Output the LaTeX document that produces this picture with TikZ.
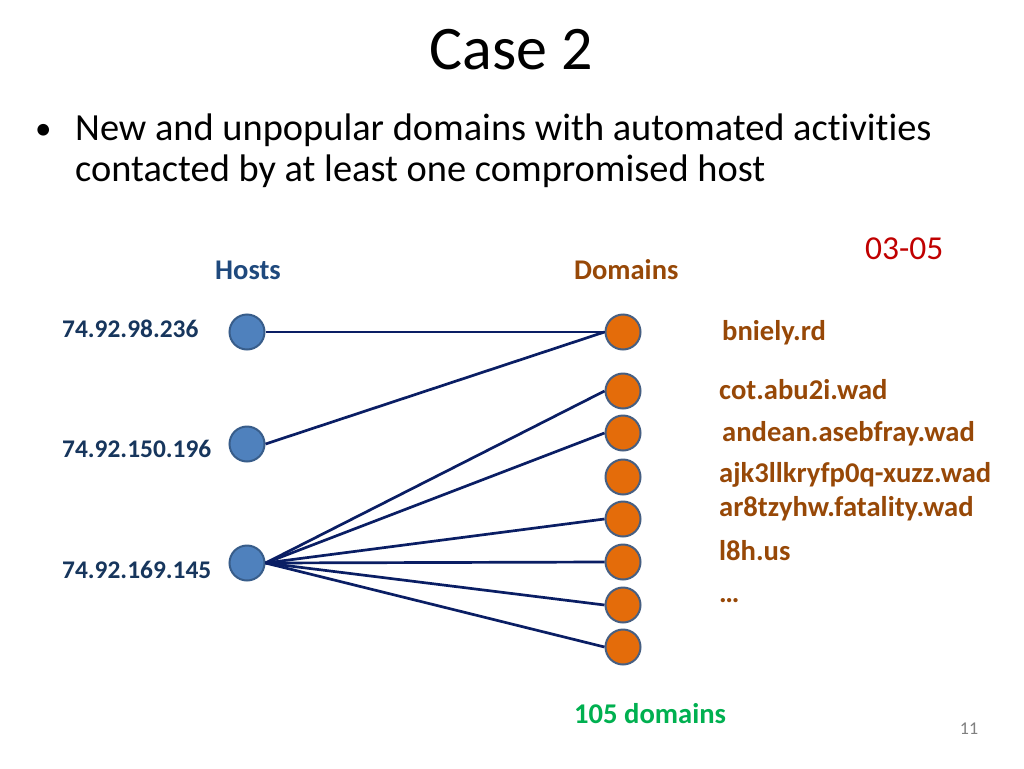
\documentclass[tikz,border=0pt]{standalone}
\usepackage{fontspec}
\setmainfont[Ligatures={NoCommon}]{Carlito}
\definecolor{hostfill}{RGB}{79,129,189}
\definecolor{hostdraw}{RGB}{56,93,138}
\definecolor{domfill}{RGB}{228,108,10}
\definecolor{domdraw}{RGB}{70,95,130}
\definecolor{edgecol}{RGB}{10,30,100}
\definecolor{navy}{RGB}{23,54,93}
\definecolor{hostlbl}{RGB}{31,73,125}
\definecolor{brownlbl}{RGB}{151,72,7}
\definecolor{redlbl}{RGB}{192,0,0}
\definecolor{greenlbl}{RGB}{0,176,80}
\tikzset{
  host/.style={circle,fill=hostfill,draw=hostdraw,line width=2pt,minimum size=35pt,inner sep=0pt},
  dom/.style={circle,fill=domfill,draw=domdraw,line width=2pt,minimum size=35pt,inner sep=0pt},
  edge/.style={draw=edgecol,line width=2.7pt},
  iplbl/.style={anchor=base west,inner sep=0pt,text=navy,font=\fontsize{25.4}{30}\selectfont\bfseries},
  domlbl/.style={anchor=base west,inner sep=0pt,text=brownlbl,font=\fontsize{28.6}{34}\selectfont\bfseries},
  bullettxt/.style={anchor=base west,inner sep=0pt,font=\fontsize{38.4}{46}\selectfont}
}
\begin{document}
\begin{tikzpicture}[x=1pt,y=-1pt]
\useasboundingbox[fill=white] (0,0) rectangle (1024,768);
% title
\node[anchor=base,inner sep=0pt,font=\fontsize{62}{72}\selectfont] (title) at (511,70) {Case 2};
\node[anchor=base west,inner sep=0pt,font=\fontsize{33}{40}\selectfont] (bul) at (35,139) {•};
\node[bullettxt] (l1) at (75,140) {New and unpopular domains with automated activities};
\node[bullettxt] (l2) at (75,181) {contacted by at least one compromised host};
% headers
\node[anchor=base,inner sep=0pt,text=hostlbl,font=\fontsize{28.5}{34}\selectfont\bfseries] (hosts) at (248,279) {Hosts};
\node[anchor=base west,inner sep=0pt,text=brownlbl,font=\fontsize{28.5}{34}\selectfont\bfseries] (domains) at (574,279) {Domains};
\node[anchor=base west,inner sep=0pt,text=redlbl,font=\fontsize{33.5}{40}\selectfont] (date) at (865,259) {03-05};
% hosts
\node[host] (h1) at (247,332) {};
\node[host] (h2) at (247,444) {};
\node[host] (h3) at (247,563) {};
% domains
\node[dom] (d1) at (623,332) {};
\node[dom] (d2) at (623,391) {};
\node[dom] (d3) at (623,433) {};
\node[dom] (d4) at (623,477) {};
\node[dom] (d5) at (623,519) {};
\node[dom] (d6) at (623,562) {};
\node[dom] (d7) at (623,605) {};
\node[dom] (d8) at (623,647) {};
% edges
\draw[edge] (h1.east) -- (d1.west);
\draw[edge] (h2.east) -- (d1.west);
\draw[edge] (h3.east) -- (d2.west);
\draw[edge] (h3.east) -- (d3.west);
\draw[edge] (h3.east) -- (d5.west);
\draw[edge] (h3.east) -- (d6.west);
\draw[edge] (h3.east) -- (d7.west);
\draw[edge] (h3.east) -- (d8.west);
% ip labels
\node[iplbl] (ip1) at (62,337) {74.92.98.236};
\node[iplbl] (ip2) at (62,457) {74.92.150.196};
\node[iplbl] (ip3) at (62,578) {74.92.169.145};
% domain labels
\node[domlbl] (n1) at (722,340) {bniely.rd};
\node[domlbl] (n2) at (719,399) {cot.abu2i.wad};
\node[domlbl] (n3) at (722,441) {andean.asebfray.wad};
\node[domlbl] (n4) at (719,482) {ajk3llkryfp0q-xuzz.wad};
\node[domlbl] (n5) at (719,516) {ar8tzyhw.fatality.wad};
\node[domlbl] (n6) at (719,560) {l8h.us};
\node[domlbl] (n7) at (719,602) {…};
\node[anchor=base west,inner sep=0pt,text=greenlbl,font=\fontsize{28.6}{34}\selectfont\bfseries] (count) at (574,723) {105 domains};
\node[anchor=base,inner sep=0pt,text=gray,font=\fontsize{18}{22}\selectfont] (page) at (969,734) {11};
\end{tikzpicture}
\end{document}
